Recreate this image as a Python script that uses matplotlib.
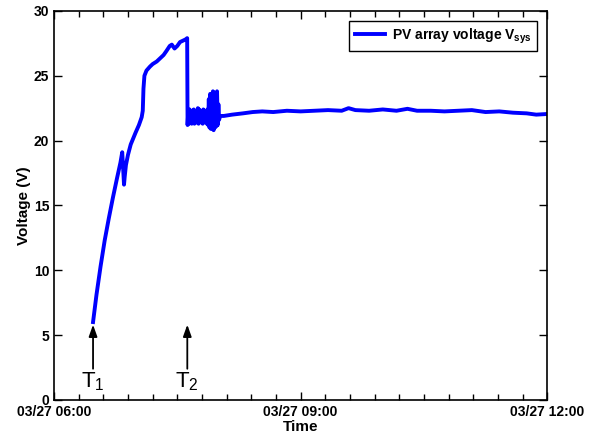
import numpy as np
import pandas as pd
import matplotlib
matplotlib.use("Agg")
import matplotlib.pyplot as plt
import matplotlib.dates as mdates

plt.rcParams['font.family'] = ['Liberation Sans', 'DejaVu Sans']
plt.rcParams['mathtext.fontset'] = 'custom'
plt.rcParams['mathtext.rm'] = 'Liberation Sans'
plt.rcParams['mathtext.bf'] = 'Liberation Sans:bold'

day = pd.Timestamp("2014-03-27 06:00")

# minutes after 06:00 and PV voltage (V)
rise_min = [28.5, 31, 34, 37, 40, 43, 46, 48.5, 49.8, 50.6, 51.1, 51.6, 52.5,
            54, 56, 59.5, 62, 64, 64.8, 65.3, 66, 67.5, 70, 72, 75, 78, 80,
            82, 84.5, 86, 88, 90, 92, 94, 96, 97.2]
rise_v = [6.0, 8.1, 10.3, 12.3, 14.0, 15.6, 17.1, 18.3, 19.1, 17.6, 16.6, 17.2, 18.1,
          18.9, 19.7, 20.6, 21.2, 21.8, 22.3, 24.0, 25.0, 25.4, 25.7, 25.9, 26.1, 26.4, 26.6,
          26.9, 27.3, 27.4, 27.1, 27.3, 27.6, 27.7, 27.8, 27.9]

osc_min = [97.5, 98.0, 98.5, 99.0, 99.5, 100.0, 100.5, 101.0, 101.5, 102.0,
           102.5, 103.0, 103.5, 104.0, 104.5, 105.0, 105.5, 106.0, 106.5, 107.0,
           107.5, 108.0, 108.5, 109.0, 109.5, 110.0, 110.5, 111.0, 111.5, 112.0,
           112.5, 113.0, 113.5, 114.0, 114.5, 115.0, 115.5, 116.0, 116.5, 117.0,
           117.5, 118.0, 118.5, 119.0, 119.5, 120.0, 120.5, 121.3]
osc_v = [21.2, 22.3, 21.3, 22.4, 21.4, 22.2, 21.3, 22.3, 21.5, 22.4,
         21.3, 22.2, 21.4, 22.3, 21.4, 22.5, 21.3, 22.4, 21.5, 22.3,
         21.4, 22.2, 21.3, 22.4, 21.4, 22.3, 21.5, 22.2, 21.3, 22.4,
         21.2, 23.2, 21.0, 23.6, 20.9, 23.4, 21.2, 23.8, 20.8, 23.7,
         21.0, 23.5, 21.1, 23.8, 21.2, 22.8, 21.6, 21.9]

flat_min = [124, 130, 138, 145, 152, 160, 170, 180, 190, 200, 210, 215, 220,
            230, 240, 250, 258, 265, 275, 285, 295, 305, 315, 325, 335, 345, 352, 360]
flat_v = [21.9, 22.0, 22.1, 22.2, 22.25, 22.2, 22.3, 22.25, 22.3, 22.35, 22.3, 22.5, 22.35,
          22.3, 22.4, 22.3, 22.45, 22.3, 22.3, 22.25, 22.3, 22.35, 22.2, 22.25, 22.15, 22.1, 22.0, 22.05]

event_min = [28.5, 97.3]
event_labels = ['T$_1$', 'T$_2$']

minutes = rise_min + osc_min + flat_min
volts = rise_v + osc_v + flat_v
t = day + pd.to_timedelta(minutes, unit='m')

fig = plt.figure(figsize=(6, 4.37), dpi=100)
ax = fig.add_axes([0.09, 0.085, 0.822, 0.89])

ax.plot(t, volts, color='#0000ff', lw=2.8, label=r'PV array voltage V$_{\mathbf{sys}}$')

for m, lab in zip(event_min, event_labels):
    te = day + pd.Timedelta(minutes=m)
    ax.annotate('', xy=(te, 5.8), xytext=(te, 2.4),
                arrowprops=dict(arrowstyle='-|>,head_width=0.25,head_length=0.7',
                                color='black', lw=1.3, shrinkA=0, shrinkB=0))
    ax.text(te, 1.4, lab, ha='center', va='center', fontsize=16)

ax.set_xlim(day, day + pd.Timedelta(hours=6))
ax.set_ylim(0, 30)
ax.set_yticks([0, 5, 10, 15, 20, 25, 30])

ax.xaxis.set_major_locator(mdates.HourLocator(byhour=[6, 9, 12]))
ax.xaxis.set_minor_locator(matplotlib.ticker.FixedLocator(
    mdates.date2num(day + pd.to_timedelta(np.arange(0, 361, 18), unit='m'))))
ax.xaxis.set_major_formatter(mdates.DateFormatter('%m/%d %H:%M'))

ax.tick_params(which='both', direction='in', top=True, right=True, labelsize=10)
ax.tick_params(which='major', length=6, width=1)
ax.tick_params(which='minor', length=4, width=1)
for lab in ax.get_xticklabels() + ax.get_yticklabels():
    lab.set_fontweight('bold')
for s in ax.spines.values():
    s.set_linewidth(1.2)

ax.set_xlabel('Time', fontsize=11, fontweight='bold', labelpad=1)
ax.set_ylabel('Voltage (V)', fontsize=11, fontweight='bold', labelpad=2)

leg = ax.legend(loc='upper right', fancybox=False, framealpha=1, edgecolor='black',
                prop={'weight': 'bold', 'size': 10}, handlelength=2.2,
                borderaxespad=0.7, handletextpad=0.5)
leg.get_frame().set_linewidth(1.0)

fig.savefig('out.png', dpi=100)
